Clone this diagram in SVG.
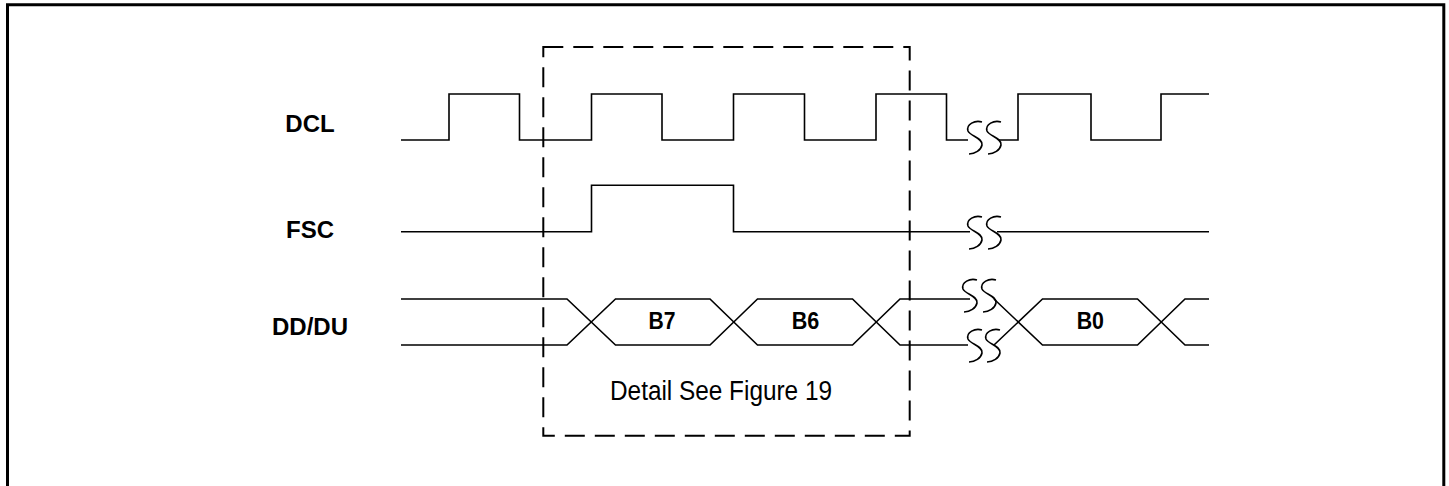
<svg xmlns="http://www.w3.org/2000/svg" width="1449" height="486" viewBox="0 0 1449 486">
<style>
.sig{fill:none;stroke:#000;stroke-width:1.6;stroke-linejoin:miter}
.brk{fill:none;stroke:#000;stroke-width:1.6}
.lbl{font-family:"Liberation Sans",Arial,sans-serif;font-weight:bold;font-size:24px;text-anchor:middle;fill:#000}
.bit{font-family:"Liberation Sans",Arial,sans-serif;font-weight:bold;font-size:23px;fill:#000}
.note{font-family:"Liberation Sans",Arial,sans-serif;font-size:27px;fill:#000}
</style>
<defs>
<path id="sq" class="brk" d="M7,-16 C0,-18 -9,-14 -7,-7 C-5,-2 8,0 7,7 C6,12 0,16 -6,16"/>
</defs>
<rect width="1449" height="486" fill="#fff"/>
<path id="frame" d="M7.5,490 V4.8 H1443.8 V490" fill="none" stroke="#000" stroke-width="3"/>
<g id="labels">
<text class="lbl" x="310" y="132">DCL</text>
<text class="lbl" x="310" y="238">FSC</text>
<text class="lbl" x="310" y="335">DD/DU</text>
</g>
<g id="connectors">
<g id="dcl">
<path class="sig" d="M401,140 H449 V94 H519.5 V140 H591.5 V94 H662 V140 H733.5 V94 H804.5 V140 H876 V94 H946.5 V140 H968"/>
<path class="sig" d="M999,140 H1018 V94 H1091 V140 H1161 V94 H1209"/>
<use href="#sq" x="975" y="138"/>
<use href="#sq" x="994" y="138"/>
</g>
<g id="fsc">
<path class="sig" d="M401,231.7 H591.5 V185.3 H733.5 V231.7 H970"/>
<path class="sig" d="M997,231.7 H1209"/>
<use href="#sq" x="975" y="233"/>
<use href="#sq" x="994" y="233"/>
</g>
<g id="dd">
<path class="sig" d="M401,299 H567 L615.5,345 H710 L757.5,299 H852.5 L900,345 H968"/>
<path class="sig" d="M401,345 H567 L615.5,299 H710 L757.5,345 H852.5 L900,299 H970"/>
<path class="sig" d="M994,299 L1042.5,345 H1137.5 L1185,299 H1209"/>
<path class="sig" d="M994,345 L1042.5,299 H1137.5 L1185,345 H1209"/>
<use href="#sq" x="970" y="296"/>
<use href="#sq" x="989" y="296"/>
<use href="#sq" x="975" y="346"/>
<use href="#sq" x="993" y="346"/>
</g>
</g>
<g id="bits">
<text class="bit" x="648.5" y="329" textLength="27" lengthAdjust="spacingAndGlyphs">B7</text>
<text class="bit" x="791.7" y="329" textLength="27.6" lengthAdjust="spacingAndGlyphs">B6</text>
<text class="bit" x="1076.7" y="329" textLength="27.3" lengthAdjust="spacingAndGlyphs">B0</text>
</g>
<g id="detail-box">
<rect x="543.3" y="47" width="366.4" height="388.7" fill="none" stroke="#000" stroke-width="2" stroke-dasharray="20 10"/>
<text class="note" x="610" y="400" textLength="222" lengthAdjust="spacingAndGlyphs">Detail See Figure 19</text>
</g>
</svg>
